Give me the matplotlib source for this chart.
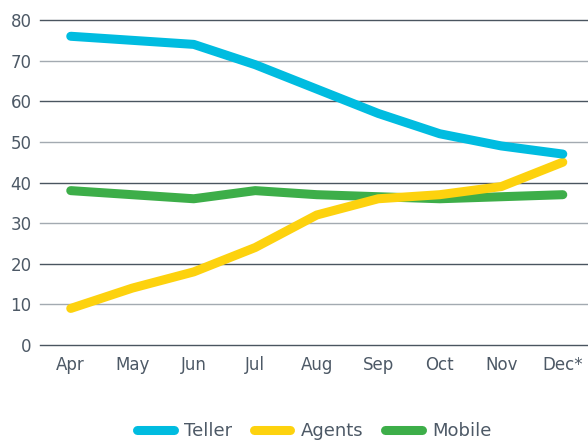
import matplotlib
matplotlib.use("Agg")
import matplotlib.pyplot as plt
from matplotlib.lines import Line2D

months = ["Apr", "May", "Jun", "Jul", "Aug", "Sep", "Oct", "Nov", "Dec*"]
teller = [76, 75, 74, 69, 63, 57, 52, 49, 47]
agents = [9, 14, 18, 24, 32, 36, 37, 39, 45]
mobile = [38, 37, 36, 38, 37, 36.5, 36, 36.5, 37]

series = [("Teller", teller, "#00bce0"),
          ("Agents", agents, "#fdd20e"),
          ("Mobile", mobile, "#3dae49")]

text_col = "#4d5966"
plt.rcParams['font.family'] = ['DejaVu Sans']

fig = plt.figure(figsize=(5.88, 4.41), dpi=100)
ax = fig.add_axes([0.068, 0.2177, 0.932, 0.7369])

for v in range(0, 81, 10):
    col = "#4a5560" if v % 20 == 0 else "#a3aab1"
    ax.axhline(v, color=col, lw=1.0, zorder=1, clip_on=False)

x = list(range(len(months)))
# mobile first so teller ends up on top
for name, vals, col in [series[2], series[1], series[0]]:
    ax.plot(x, vals, color=col, lw=6.5, solid_capstyle="round",
            solid_joinstyle="round", zorder=3, clip_on=False)

ax.set_xlim(-0.5, 8.41)
ax.set_ylim(0, 80)
ax.set_yticks(range(0, 81, 10))
ax.set_xticks(x)
ax.set_xticklabels(months)
ax.tick_params(length=0, labelsize=12, colors=text_col)
ax.tick_params(axis="x", pad=8)
ax.tick_params(axis="y", pad=6)
for s in ax.spines.values():
    s.set_visible(False)

handles = [Line2D([0], [0], color=c, lw=6.5, solid_capstyle="round") for _, _, c in series]
fig.legend(handles, [n for n, _, _ in series], loc="center", bbox_to_anchor=(0.535, 0.023),
           ncol=3, frameon=False, fontsize=13, labelcolor=text_col,
           handlelength=2.0, columnspacing=1.2, handletextpad=0.6)

fig.savefig("out.png", dpi=100)
